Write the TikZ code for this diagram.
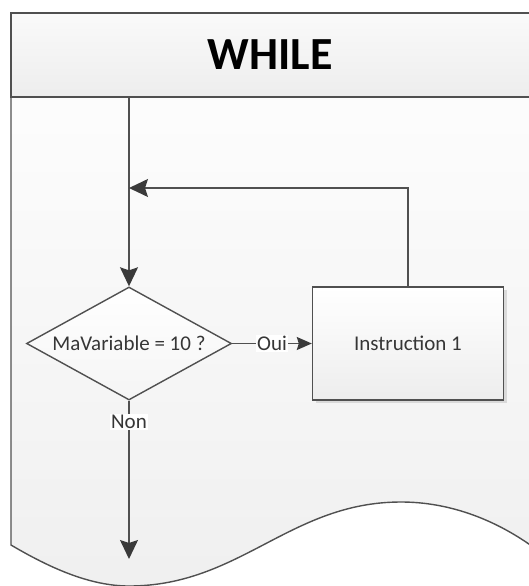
\documentclass[tikz,border=0pt]{standalone}
\usepackage{fontspec}
\setmainfont{Carlito}
\usetikzlibrary{shapes.geometric,arrows.meta,shadows}
\definecolor{ln}{HTML}{505050}
\definecolor{ah}{HTML}{3A3A3A}
\definecolor{tx}{HTML}{363636}
\begin{document}
\begin{tikzpicture}[x=1pt,y=-1pt,
  outline/.style={draw=ln,line width=1.4pt},
  flow/.style={draw=ln,line width=1.4pt,-{Stealth[length=19pt,width=18pt,inset=3pt,fill=ah,color=ah]}},
  smallflow/.style={draw=ln,line width=1.4pt,-{Stealth[length=15pt,width=13pt,inset=2pt,fill=ah,color=ah]}},
  lbl/.style={font=\fontsize{21}{25}\selectfont,text=tx},
  tag/.style={lbl,fill=white,inner sep=1.5pt},
  decision/.style={diamond,outline,lbl,inner sep=0pt,aspect=1.8,minimum width=205pt,minimum height=113pt,top color=white,bottom color=black!4},
  stepbox/.style={rectangle,outline,lbl,minimum width=191pt,minimum height=113pt,top color=white,bottom color=black!7,
     drop shadow={shadow xshift=3pt,shadow yshift=-3pt,fill=black!25,opacity=.5}},
  ]
\useasboundingbox (0,0) rectangle (529,586);
\clip (0,0) rectangle (529,586);
% body of the frame
\path[top color=black!1,bottom color=black!6]
  (11,97) -- (11,545)
  .. controls (50,568) and (90,586) .. (129,586)
  .. controls (240,586) and (290,502) .. (401,502)
  .. controls (450,502) and (500,520) .. (545,556)
  -- (545,97) -- cycle;
\draw[outline] (11,97) -- (11,545)
  .. controls (50,568) and (90,586) .. (129,586)
  .. controls (240,586) and (290,502) .. (401,502)
  .. controls (450,502) and (500,520) .. (545,556);
% header
\path[outline,top color=black!2,bottom color=black!7] (11,13) rectangle (545,97);
\node[font=\fontsize{46}{50}\bfseries\selectfont,text=black] (title) at (270,55) {WHILE};
% nodes
\coordinate (top) at (129,97);
\coordinate (j) at (129,188);
\coordinate (e) at (129,559);
\node[decision] (d) at (129,343.5) {MaVariable = 10 ?};
\node[stepbox] (b) at (408,343.5) {Instruction 1};
% connectors
\draw[flow] (top) -- (d.north);
\draw[flow] (b.north) |- (j);
\draw[smallflow] (d.east) -- node[tag]{Oui} (b.west);
\draw[flow] (d.south) -- node[tag,pos=0.135]{Non} (e);
\end{tikzpicture}
\end{document}
